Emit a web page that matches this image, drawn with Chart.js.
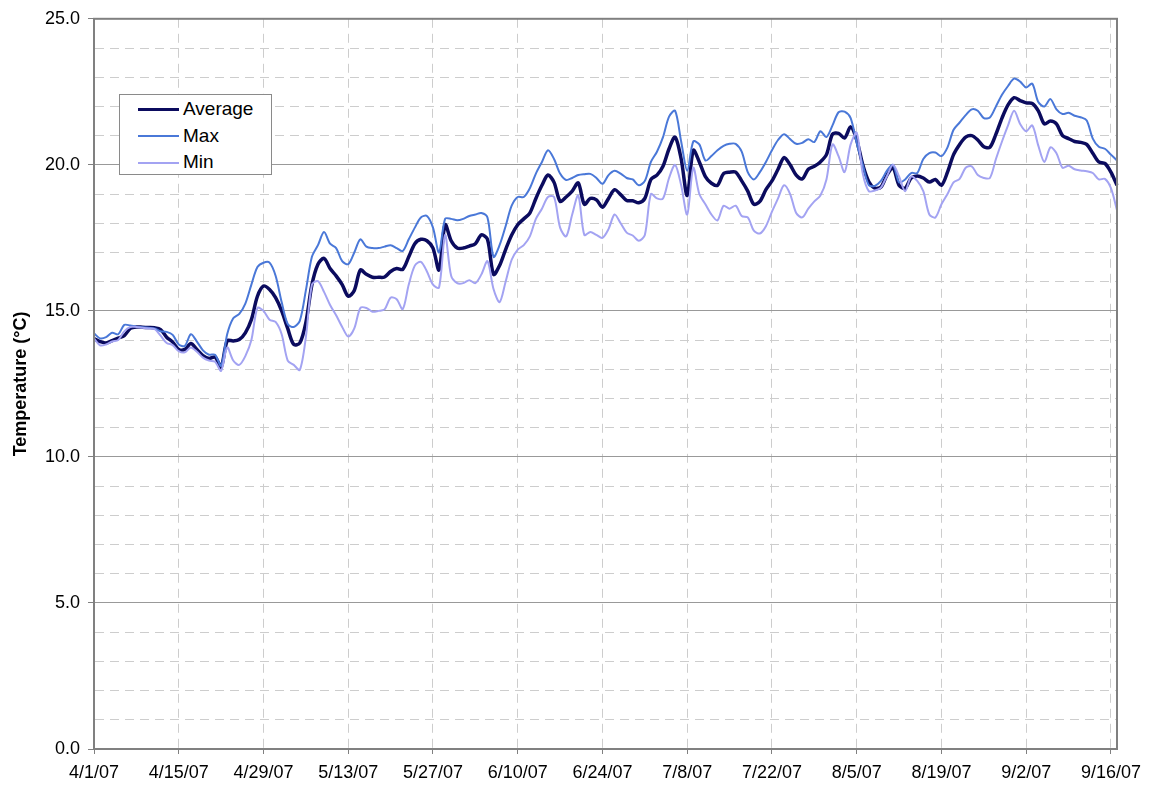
<!DOCTYPE html>
<html>
<head>
<meta charset="utf-8">
<title>Temperature</title>
<script src="https://cdn.jsdelivr.net/npm/chart.js@4.4.1/dist/chart.umd.min.js"></script>
<style>
  html, body { margin: 0; padding: 0; background: #fff; }
  #wrap { position: relative; width: 1154px; height: 792px; }
  #legend {
    position: absolute; left: 119px; top: 94px; width: 151px; height: 79px;
    border: 1px solid #8a8a8a; background: #fff;
    font-family: Arial, 'Liberation Sans', sans-serif; font-size: 19px; color: #000;
  }
  .row { position: absolute; left: 18px; height: 20px; line-height: 20px; white-space: nowrap; }
  .swatch { display: inline-block; width: 41px; vertical-align: middle; margin-right: 4px; }
</style>
</head>
<body>
<div id="wrap">
  <canvas id="tempChart" width="1154" height="792"></canvas>
  <div id="legend"></div>
</div>
<script>
// --- data ---
const startDay = new Date(2007, 3, 1);
const dayCount = 170;
const tickLabels = ['4/1/07', '4/15/07', '4/29/07', '5/13/07', '5/27/07', '6/10/07', '6/24/07',
                    '7/8/07', '7/22/07', '8/5/07', '8/19/07', '9/2/07', '9/16/07'];

const avgTemp = [
  14.05, 13.95, 13.9, 13.98, 14.07, 14.15, 14.4, 14.45, 14.44, 14.43,
  14.42, 14.36, 14.1, 13.93, 13.68, 13.68, 13.88, 13.68, 13.47, 13.37,
  13.42, 13.08, 13.98, 13.97, 14.02, 14.25, 14.7, 15.5, 15.85, 15.73,
  15.45, 15.0, 14.4, 13.85, 13.9, 14.6, 15.9, 16.6, 16.8, 16.45,
  16.2, 15.9, 15.5, 15.7, 16.4, 16.25, 16.15, 16.15, 16.16, 16.35,
  16.45, 16.42, 16.85, 17.3, 17.45, 17.4, 17.15, 16.4, 17.95, 17.4,
  17.15, 17.15, 17.22, 17.3, 17.6, 17.45, 16.25, 16.55, 17.1, 17.6,
  17.95, 18.15, 18.35, 18.85, 19.3, 19.65, 19.4, 18.75, 18.9, 19.1,
  19.38, 18.65, 18.85, 18.8, 18.55, 18.85, 19.15, 18.98, 18.78, 18.77,
  18.7, 18.85, 19.5, 19.65, 19.95, 20.55, 20.95, 20.2, 18.95, 20.5,
  20.1, 19.6, 19.37, 19.3, 19.7, 19.75, 19.75, 19.45, 19.1, 18.65,
  18.75, 19.15, 19.45, 19.85, 20.25, 20.0, 19.65, 19.52, 19.85, 19.95,
  20.1, 20.35, 21.05, 21.08, 20.92, 21.3, 20.85, 20.0, 19.42, 19.2,
  19.24, 19.65, 19.9, 19.3, 19.2, 19.55, 19.62, 19.55, 19.41, 19.5,
  19.3, 19.75, 20.35, 20.7, 20.95, 21.0, 20.85, 20.62, 20.6, 21.05,
  21.6, 22.05, 22.3, 22.2, 22.12, 22.1, 21.85, 21.4, 21.5, 21.4,
  21.0, 20.9, 20.8, 20.77, 20.7, 20.4, 20.1, 20.05, 19.75, 19.3
];

const maxTemp = [
  14.23, 14.06, 14.1, 14.25, 14.2, 14.52, 14.5, 14.46, 14.44, 14.42,
  14.4, 14.3, 14.28, 14.18, 13.85, 13.8, 14.2, 13.95, 13.65, 13.5,
  13.5, 13.12, 14.2, 14.75, 14.9, 15.25, 15.9, 16.5, 16.65, 16.65,
  16.2, 15.3, 14.55, 14.45, 14.66, 15.7, 16.85, 17.25, 17.7, 17.3,
  17.15, 16.7, 16.6, 17.0, 17.45, 17.2, 17.15, 17.15, 17.2, 17.25,
  17.15, 17.05, 17.45, 17.85, 18.2, 18.25, 17.85, 17.0, 18.15, 18.15,
  18.1, 18.15, 18.25, 18.3, 18.35, 18.2, 16.85, 17.25, 17.9, 18.6,
  18.9, 18.9, 19.2, 19.7, 20.1, 20.5, 20.2, 19.7, 19.48, 19.55,
  19.65, 19.68, 19.69, 19.55, 19.35, 19.65, 19.8, 19.7, 19.55, 19.5,
  19.3, 19.45, 20.1, 20.45, 20.95, 21.65, 21.85, 20.8, 19.8, 20.8,
  20.7, 20.15, 20.3, 20.5, 20.65, 20.72, 20.72, 20.45, 19.75, 19.5,
  19.75, 20.1, 20.5, 20.85, 21.05, 20.88, 20.72, 20.75, 20.88, 20.78,
  21.15, 20.95, 21.35, 21.8, 21.82, 21.6, 20.75, 20.0, 19.3, 19.28,
  19.45, 19.8, 20.0, 19.4, 19.5, 19.72, 19.72, 20.2, 20.4, 20.42,
  20.3, 20.6, 21.2, 21.45, 21.7, 21.9, 21.85, 21.6, 21.62, 22.0,
  22.4, 22.7, 22.95, 22.85, 22.65, 22.78, 22.15, 22.0, 22.25, 21.9,
  21.74, 21.78, 21.68, 21.63, 21.52, 20.9, 20.62, 20.55, 20.35, 20.15
];

const minTemp = [
  14.06, 13.82, 13.85, 13.95, 14.0, 14.3, 14.45, 14.45, 14.42, 14.4,
  14.38, 14.15, 13.9, 13.83, 13.62, 13.58, 13.75, 13.6, 13.4, 13.3,
  13.26, 12.95, 13.75, 13.3, 13.15, 13.45, 14.0, 15.1, 15.0, 14.7,
  14.62, 14.2, 13.3, 13.15, 12.98, 14.1, 15.9, 16.02, 15.65, 15.2,
  14.85, 14.45, 14.12, 14.4, 15.1, 15.1, 14.97, 15.0, 15.05, 15.45,
  15.4, 15.06, 15.9, 16.55, 16.68, 16.35, 15.9, 15.8, 17.6, 16.2,
  15.95, 15.95, 16.05, 15.95, 16.25, 16.7, 15.75, 15.3, 16.0, 16.75,
  17.1, 17.25, 17.55, 18.15, 18.5, 18.9, 18.9, 17.85, 17.55, 18.3,
  18.95, 17.6, 17.7, 17.6, 17.5, 17.8, 18.3, 18.0, 17.68, 17.58,
  17.4, 17.6, 19.0, 18.85, 18.85, 19.55, 20.0, 19.3, 18.3, 19.9,
  19.0, 18.65, 18.3, 18.1, 18.6, 18.5, 18.6, 18.25, 18.2, 17.75,
  17.65, 17.9, 18.4, 18.85, 19.3, 19.0, 18.35, 18.2, 18.5, 18.75,
  18.95, 19.5, 20.7, 20.3, 19.75, 20.7, 21.1, 19.7, 19.1, 19.12,
  19.22, 19.62, 20.0, 19.6, 19.1, 19.6, 19.45, 19.1, 18.3, 18.2,
  18.65, 19.0, 19.4, 19.52, 19.9, 19.95, 19.65, 19.55, 19.55, 20.2,
  20.8, 21.35, 21.85, 21.4, 21.15, 21.35, 20.66, 20.1, 20.6, 20.4,
  19.9, 19.97, 19.85, 19.81, 19.78, 19.72, 19.5, 19.52, 19.2, 18.45
];

// categories: one label per day, m/d/yy
const dates = [];
for (let i = 0; i < dayCount; i++) {
  const d = new Date(startDay.getTime());
  d.setDate(startDay.getDate() + i);
  dates.push((d.getMonth() + 1) + '/' + d.getDate() + '/07');
}

const FONT = "Arial, 'Liberation Sans', sans-serif";
const AXIS_GRAY = '#808080';

// frame round the plot area (top and right sides)
const plotFrame = {
  id: 'plotFrame',
  afterDraw(chart) {
    const a = chart.chartArea;
    const ctx = chart.ctx;
    ctx.save();
    ctx.strokeStyle = AXIS_GRAY;
    ctx.lineWidth = 2;
    ctx.strokeRect(a.left, a.top, a.right - a.left, a.bottom - a.top);
    ctx.restore();
  }
};

const series = [
  { label: 'Average', data: avgTemp, color: '#0b0b5e', width: 3.5 },
  { label: 'Max', data: maxTemp, color: '#4a78d8', width: 2 },
  { label: 'Min', data: minTemp, color: '#a3a3f2', width: 2 }
];

const ctx = document.getElementById('tempChart').getContext('2d');
new Chart(ctx, {
  type: 'line',
  data: {
    labels: dates,
    datasets: series.slice().reverse().map(s => ({
      label: s.label,
      data: s.data,
      borderColor: s.color,
      borderWidth: s.width,
      pointRadius: 0,
      tension: 0.3,
      fill: false
    }))
  },
  options: {
    responsive: false,
    animation: false,
    layout: { padding: { top: 14, right: 37, bottom: 0, left: 0 } },
    plugins: { legend: { display: false }, tooltip: { enabled: false } },
    scales: {
      x: {
        offset: false,
        afterFit(scale) { scale.height = 43; },
        grid: {
          color: c => tickLabels.includes(dates[c.index]) ? '#cdcdcd' : 'transparent',
          tickColor: c => tickLabels.includes(dates[c.index]) ? AXIS_GRAY : 'transparent',
          tickLength: 5,
          lineWidth: 1
        },
        border: { color: AXIS_GRAY, width: 2, dash: [9, 6] },
        ticks: {
          autoSkip: false,
          maxRotation: 0,
          minRotation: 0,
          padding: 8,
          color: '#000',
          font: { family: FONT, size: 18 },
          callback: function (value) {
            const lbl = this.getLabelForValue(value);
            return tickLabels.includes(lbl) ? lbl : '';
          }
        }
      },
      y: {
        min: 0,
        max: 25,
        afterFit(scale) { scale.width = 94; },
        title: {
          display: true,
          text: 'Temperature (°C)',
          color: '#000',
          font: { family: FONT, size: 18, weight: 'bold' },
          padding: { top: 10, bottom: 8 }
        },
        grid: {
          color: c => c.tick.value % 5 === 0 ? '#999999' : '#cdcdcd',
          tickColor: c => c.tick.value % 5 === 0 ? AXIS_GRAY : 'transparent',
          tickLength: 6,
          lineWidth: 1
        },
        border: {
          color: AXIS_GRAY,
          width: 2,
          dash: c => c.tick && c.tick.value % 5 === 0 ? [] : [9, 6]
        },
        ticks: {
          stepSize: 1,
          padding: 8,
          color: '#000',
          font: { family: FONT, size: 18 },
          callback: v => v % 5 === 0 ? v.toFixed(1) : ''
        }
      }
    }
  },
  plugins: [plotFrame]
});

// legend box (HTML), same order as the reference
const legend = document.getElementById('legend');
series.forEach((s, i) => {
  const row = document.createElement('div');
  row.className = 'row';
  row.style.top = (4 + i * 26.5) + 'px';
  const sw = document.createElement('span');
  sw.className = 'swatch';
  sw.style.borderTop = s.width + 'px solid ' + s.color;
  row.appendChild(sw);
  row.appendChild(document.createTextNode(s.label));
  legend.appendChild(row);
});
</script>
</body>
</html>
